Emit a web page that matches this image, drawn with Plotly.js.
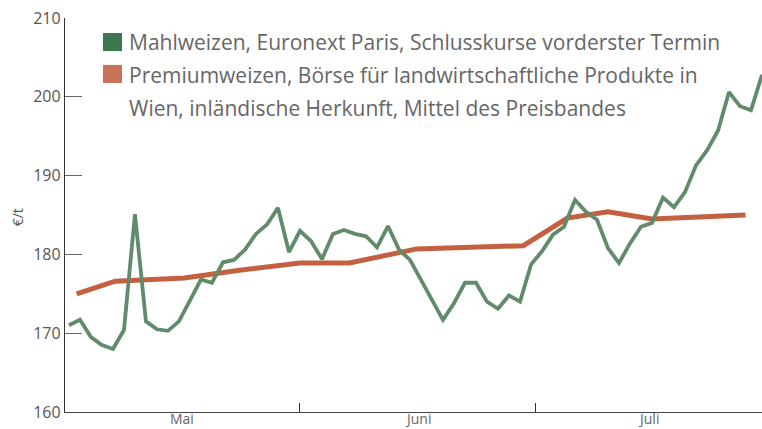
<!DOCTYPE html>
<html>
<head>
<meta charset="utf-8">
<script src="https://cdn.plot.ly/plotly-3.0.1.min.js"></script>
<style>html,body{margin:0;padding:0;background:#fff;}#chart{width:762px;height:429px;}</style>
</head>
<body>
<div id="chart"></div>
<script>
// Trading-day index (x) and values
const mahlDays = [0,1,2,3,4,5,6,7,8,9,10,11,12,13,14,15,16,17,18,19,20,21,22,23,24,25,26,27,28,29,30,31,32,33,34,35,36,37,38,39,40,41,42,43,44,45,46,47,48,49,50,51,52,53,54,55,56,57,58,59,60,61,62,63];
const mahlweizen = [171.0,171.7,169.5,168.5,168.0,170.4,185.1,171.5,170.5,170.3,171.5,174.2,176.8,176.4,179.0,179.3,180.6,182.6,183.8,185.9,180.3,183.0,181.7,179.4,182.6,183.1,182.6,182.3,180.9,183.6,180.6,179.3,176.8,174.2,171.7,173.8,176.4,176.4,174.0,173.1,174.8,174.0,178.7,180.4,182.5,183.5,186.9,185.4,184.4,180.8,178.9,181.4,183.5,184.0,187.2,186.0,187.9,191.3,193.2,195.7,200.6,198.8,198.3,202.8];
const premDays = [0.7,4.2,10.5,15.5,21,25.5,31.6,41.3,45.3,49,53,61.5];
const premiumweizen = [175.0,176.6,177.0,178.0,178.9,178.9,180.7,181.1,184.6,185.4,184.5,185.0];
const monthBounds = [21, 42.45];
const monthLabels = ['Mai','Juni','Juli'];
const monthLabelPos = [10.3, 31.7, 52.7];
const yTicks = [160,170,180,190,200,210];
const legendLines = ['Mahlweizen, Euronext Paris, Schlusskurse vorderster Termin',
  'Premiumweizen, Börse für landwirtschaftliche Produkte in',
  'Wien, inländische Herkunft, Mittel des Preisbandes'];
const yTitle = '€/t';

const F = '"Open Sans", "DejaVu Sans", sans-serif';
const traces = [
  {x: premDays, y: premiumweizen, type:'scatter', mode:'lines', line:{color:'#c2603f', width:5}, hoverinfo:'skip'},
  {x: mahlDays, y: mahlweizen, type:'scatter', mode:'lines', line:{color:'#628b6c', width:3.8}, hoverinfo:'skip'}
];

const annotations = monthLabels.map((t,i)=>({x: monthLabelPos[i], y:-0.0431, xref:'x', yref:'paper', yanchor:'bottom', borderpad:0, text:t, showarrow:false, font:{family:F, size:14, color:'#666'}}));
annotations.push({x:-0.067, y:0.495, xref:'paper', yref:'paper', xanchor:'center', yanchor:'middle', text:yTitle, textangle:-90, showarrow:false, font:{family:F, size:14, color:'#555'}});
const legendY = [0.939, 0.855, 0.772];
legendLines.forEach((t,i)=>annotations.push({x:0.089, y:legendY[i], xref:'paper', yref:'paper', xanchor:'left', yanchor:'middle', align:'left', text:t, showarrow:false, font:{family:F, size:21, color:'#666'}}));

const shapes = [
  {type:'rect', xref:'paper', yref:'paper', x0:0.0545, x1:0.0818, y0:0.916, y1:0.962, fillcolor:'#3c7752', line:{width:0}},
  {type:'rect', xref:'paper', yref:'paper', x0:0.0545, x1:0.0818, y0:0.835, y1:0.881, fillcolor:'#c87357', line:{width:0}}
];

const layout = {
  width:762, height:429,
  margin:{l:65, r:0, t:18, b:17},
  paper_bgcolor:'#fff', plot_bgcolor:'#fff',
  showlegend:false,
  xaxis:{range:[-0.36,63], tickvals:monthBounds, ticktext:['',''], ticks:'inside', ticklen:9, tickcolor:'#333', tickwidth:1,
    showline:true, linecolor:'#444', linewidth:1.2, showgrid:false, zeroline:false, fixedrange:true},
  yaxis:{range:[160,210], tickvals:yTicks, ticks:'inside', ticklen:17, tickcolor:'#666', tickwidth:1.3,
    showline:true, linecolor:'#333', linewidth:1.2, showgrid:false, zeroline:false,
    tickfont:{family:F, size:16, color:'#555'}, fixedrange:true},
  annotations: annotations,
  shapes: shapes
};
Plotly.newPlot('chart', traces, layout, {staticPlot:true, displayModeBar:false});
</script>
</body>
</html>
